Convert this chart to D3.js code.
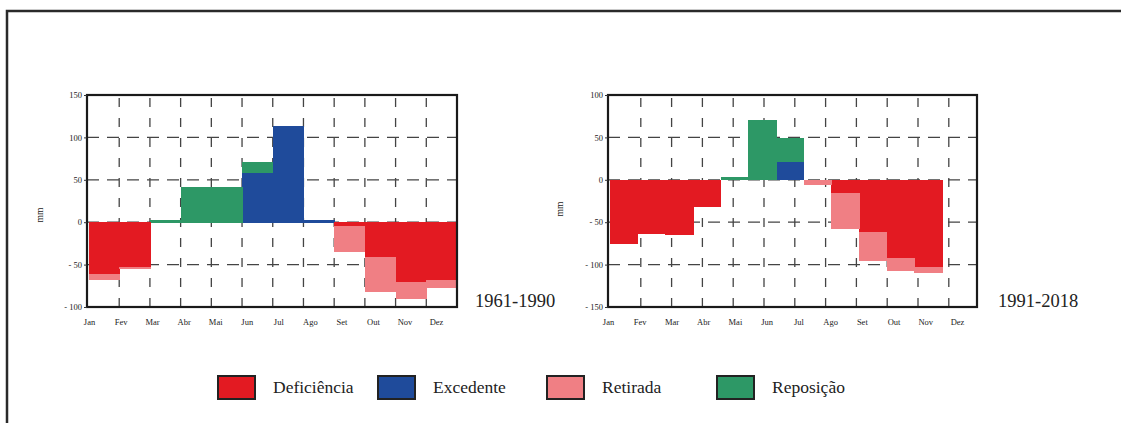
<!DOCTYPE html>
<html>
<head>
<meta charset="utf-8">
<script src="https://cdn.jsdelivr.net/npm/d3@7"></script>
<style>
  body { margin: 0; background: #fff; overflow: hidden; }
</style>
</head>
<body>
<div id="chart"></div>
<script>
const months = ["Jan", "Fev", "Mar", "Abr", "Mai", "Jun", "Jul", "Ago", "Set", "Out", "Nov", "Dez"];
const stackKeys = ["Excedente", "Reposição", "Deficiência", "Retirada"];
const legendKeys = ["Deficiência", "Excedente", "Retirada", "Reposição"];
const colors = {
  "Deficiência": "#e31a22",
  "Excedente": "#1f4b9b",
  "Retirada": "#f07f84",
  "Reposição": "#2d9866"
};

// 1961-1990 (mm)
const deficiencia1 = [-61, -53, 0, 0, 0, 0, 0, 0, -4, -41, -71, -68];
const retirada1 = [-6, -2, 0, 0, 0, 0, 0, 0, -30, -41, -19, -9];
const excedente1 = [0, 0, 0, 0, 0, 59, 114, 3, 0, 0, 0, 0];
const reposicao1 = [0, 0, 3, 42, 41, 12, 0, 0, 0, 0, 0, 0];
const ticks1 = [150, 100, 50, 0, -50, -100];

// 1991-2018 (mm)
const deficiencia2 = [-75, -63, -64, -31, 0, 0, 0, 0, -15, -61, -92, -103];
const retirada2 = [0, 0, 0, 0, 0, 0, 0, -5, -42, -34, -15, -6];
const excedente2 = [0, 0, 0, 0, 0, 0, 21, 0, 0, 0, 0, 0];
const reposicao2 = [0, 0, 0, 0, 3, 70, 28, 0, 0, 0, 0, 0];
const ticks2 = [100, 50, 0, -50, -100, -150];

const width = 1121, height = 423;
const serif = "'Liberation Serif', 'DejaVu Serif', serif";

const svg = d3.select("#chart")
  .append("svg")
  .attr("width", width)
  .attr("height", height)
  .style("font-family", serif);

// outer frame
svg.append("rect")
  .attr("x", 7).attr("y", 11)
  .attr("width", 1200).attr("height", 600)
  .attr("fill", "none")
  .attr("stroke", "#2a2a2a")
  .attr("stroke-width", 2.5);

const fmt = d => d < 0 ? "- " + Math.abs(d) : d;

function chart(o) {
  const g = svg.append("g");
  const y = d3.scaleLinear().domain(d3.extent(o.ticks)).range([o.bottom, o.top]);
  const xGrid = d3.scaleBand().domain(months).range([o.gx0, o.gx1]);
  const xBar = d3.scaleBand().domain(months).range([o.bx0, o.bx1]);
  const xLab = d3.scalePoint().domain(months).range(o.lab);

  const table = months.map((m, i) => ({
    month: m,
    "Excedente": o.exc[i],
    "Reposição": o.rep[i],
    "Deficiência": o.def[i],
    "Retirada": o.ret[i]
  }));
  const series = d3.stack().keys(stackKeys).offset(d3.stackOffsetDiverging)(table);

  // grid
  g.append("g")
    .attr("stroke", "#444")
    .attr("stroke-width", 1.3)
    .attr("stroke-dasharray", "12,8")
    .selectAll("line")
    .data(o.ticks.slice(1, -1))
    .join("line")
    .attr("x1", o.left).attr("x2", o.right)
    .attr("y1", d => y(d)).attr("y2", d => y(d));

  g.append("g")
    .attr("stroke", "#444")
    .attr("stroke-width", 1.3)
    .attr("stroke-dasharray", "9,11")
    .selectAll("line")
    .data(months.slice(1))
    .join("line")
    .attr("x1", d => xGrid(d)).attr("x2", d => xGrid(d))
    .attr("y1", o.top + 3).attr("y2", o.bottom);

  // bars (empty segments skipped)
  g.append("g")
    .attr("shape-rendering", "crispEdges")
    .selectAll("g")
    .data(series)
    .join("g")
    .attr("fill", d => colors[d.key])
    .selectAll("rect")
    .data(d => d.filter(s => s[0] !== s[1]))
    .join("rect")
    .attr("x", d => xBar(d.data.month))
    .attr("width", xBar.bandwidth() + 0.6)
    .attr("y", d => y(Math.max(d[0], d[1])))
    .attr("height", d => Math.abs(y(d[0]) - y(d[1])) + 0.5);

  // frame
  g.append("rect")
    .attr("x", o.left).attr("y", o.top)
    .attr("width", o.right - o.left).attr("height", o.bottom - o.top)
    .attr("fill", "none")
    .attr("stroke", "#1a1a1a")
    .attr("stroke-width", 2.2);

  // axes
  const ya = g.append("g")
    .attr("transform", `translate(${o.left},0)`)
    .call(d3.axisLeft(y).tickValues(o.ticks).tickSize(3).tickPadding(2).tickFormat(fmt));
  ya.select(".domain").remove();
  ya.attr("font-family", null);
  ya.selectAll("line").attr("stroke", "#333");
  ya.selectAll("text").attr("font-size", 8.5).style("font-family", serif).attr("fill", "#222");

  const xa = g.append("g")
    .attr("transform", `translate(0,${o.bottom + 12})`)
    .call(d3.axisBottom(xLab).tickSize(0).tickPadding(0));
  xa.select(".domain").remove();
  xa.attr("font-family", null);
  xa.selectAll("text").attr("font-size", 8.5).style("font-family", serif).attr("fill", "#222");

  g.append("text")
    .attr("transform", `translate(${o.mm[0]},${o.mm[1]}) rotate(-90)`)
    .attr("text-anchor", "middle")
    .attr("dominant-baseline", "middle")
    .attr("font-size", 9.5)
    .attr("fill", "#222")
    .style("font-family", serif)
    .text("mm");

  g.append("text")
    .attr("x", o.period[0]).attr("y", o.period[1])
    .attr("font-size", 18.5)
    .attr("fill", "#222")
    .style("font-family", serif)
    .text(o.label);
}

chart({
  label: "1961-1990",
  def: deficiencia1, ret: retirada1, exc: excedente1, rep: reposicao1, ticks: ticks1,
  left: 87, right: 457, top: 95, bottom: 307,
  gx0: 88.5, gx1: 457, bx0: 88.5, bx1: 457,
  lab: [89, 436], mm: [41, 215], period: [475, 307]
});

chart({
  label: "1991-2018",
  def: deficiencia2, ret: retirada2, exc: excedente2, rep: reposicao2, ticks: ticks2,
  left: 608, right: 977, top: 95, bottom: 307,
  gx0: 610, gx1: 979.6, bx0: 610, bx1: 942,
  lab: [608, 957], mm: [561, 209], period: [998, 307]
});

// legend
const legendX = [218, 378, 547, 717];
const legend = svg.append("g")
  .selectAll("g")
  .data(legendKeys)
  .join("g")
  .attr("transform", (d, i) => `translate(${legendX[i]},376)`);

legend.append("rect")
  .attr("width", 37).attr("height", 23)
  .attr("fill", d => colors[d])
  .attr("stroke", "#222")
  .attr("stroke-width", 2);

legend.append("text")
  .attr("x", 55).attr("y", 17)
  .attr("font-size", 17.5)
  .attr("fill", "#222")
  .style("font-family", serif)
  .text(d => d);
</script>
</body>
</html>
